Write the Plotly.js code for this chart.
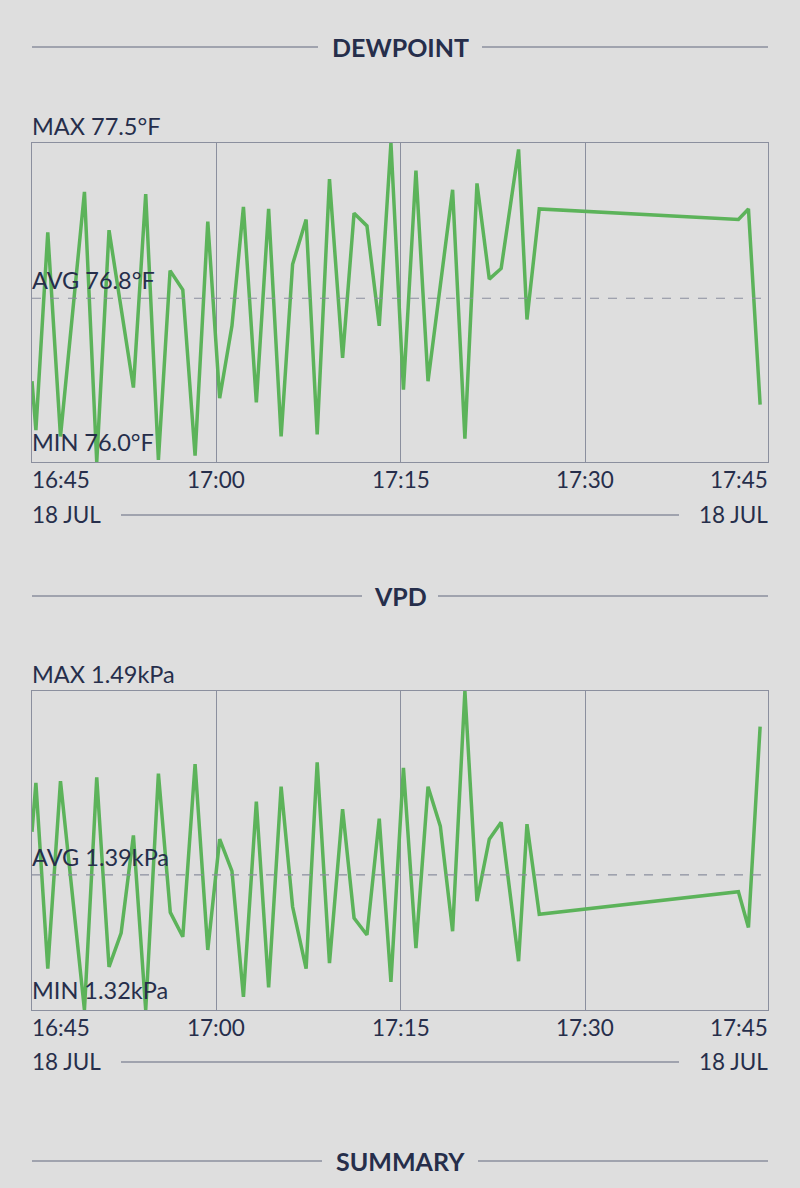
<!DOCTYPE html>
<html>
<head>
<meta charset="utf-8">
<script src="https://cdn.plot.ly/plotly-3.0.1.min.js"></script>
<style>
html,body{margin:0;padding:0;background:#dedede;}
#chart{width:800px;height:1188px;}
</style>
</head>
<body>
<div id="chart"></div>
<script>
// ---- data ----
const DAY = '2024-07-18 ';
const dewTimes = ['16:45:00','16:45:19','16:46:17','16:47:19','16:49:16','16:50:16','16:51:16','16:53:15','16:54:15','16:55:17','16:56:14','16:57:16','16:58:16','16:59:18','17:00:16','17:01:16','17:02:12','17:03:15','17:04:15','17:05:16','17:06:12','17:07:18','17:08:12','17:09:12','17:10:16','17:11:12','17:12:15','17:13:15','17:14:12','17:15:13','17:16:14','17:17:13','17:19:13','17:20:13','17:21:12','17:22:12','17:23:10','17:24:35','17:25:16','17:26:16','17:42:28','17:43:17','17:44:14'];
const dewValues = [76.38,76.15,77.08,76.12,77.27,76.00,77.09,76.35,77.26,76.01,76.90,76.81,76.03,77.13,76.30,76.64,77.20,76.28,77.19,76.12,76.93,77.14,76.13,77.33,76.49,77.17,77.11,76.64,77.50,76.34,77.37,76.38,77.28,76.11,77.31,76.86,76.91,77.47,76.67,77.19,77.14,77.19,76.27];
const vpdTimes = ['16:45:00','16:45:19','16:46:17','16:47:19','16:49:16','16:50:16','16:51:16','16:52:15','16:53:15','16:54:15','16:55:17','16:56:15','16:57:16','16:58:16','16:59:18','17:00:16','17:01:16','17:02:12','17:03:15','17:04:15','17:05:16','17:06:12','17:07:18','17:08:12','17:09:12','17:10:16','17:11:12','17:12:15','17:13:15','17:14:12','17:15:13','17:16:14','17:17:13','17:18:13','17:19:13','17:20:13','17:21:12','17:22:12','17:23:10','17:24:35','17:25:16','17:26:16','17:42:28','17:43:17','17:44:14'];
const vpdValues = [1.415,1.441,1.342,1.442,1.320,1.444,1.343,1.361,1.413,1.320,1.446,1.372,1.359,1.451,1.352,1.411,1.394,1.327,1.431,1.332,1.439,1.375,1.342,1.452,1.345,1.427,1.369,1.360,1.422,1.335,1.449,1.353,1.439,1.418,1.362,1.490,1.378,1.411,1.420,1.346,1.419,1.371,1.383,1.364,1.471];
const dewStats = [77.5, 76.77, 76.0];   // max, avg, min
const vpdStats = [1.49, 1.392, 1.32];
const tickLabels = ['16:45','17:00','17:15','17:30','17:45'];
const dateLabel = '18 JUL';
const sectionTitles = ['DEWPOINT','VPD','SUMMARY'];
const xStart = '16:45:00', xEnd = '17:44:50';

// ---- style ----
const BG = '#dedede', INK = '#262e4b', RULE = '#8b8f9e', GREEN = '#5cb35a';
const W = 800, H = 1188;
const px = v => v / W, py = v => 1 - v / H;
const FONT = 'Lato, "Open Sans", sans-serif';

const t = a => a.map(s => DAY + s);

const traces = [
  {x: t(dewTimes), y: dewValues, xaxis: 'x', yaxis: 'y', mode: 'lines', line: {color: GREEN, width: 3.5}, hoverinfo: 'skip'},
  {x: t(vpdTimes), y: vpdValues, xaxis: 'x2', yaxis: 'y2', mode: 'lines', line: {color: GREEN, width: 3.5}, hoverinfo: 'skip'}
];

function xax(anchor) {
  return {
    type: 'date', anchor: anchor, domain: [px(32), px(767.5)],
    range: [DAY + xStart, DAY + xEnd],
    tick0: DAY + '16:45:00', dtick: 900000,
    showgrid: true, gridcolor: RULE, gridwidth: 1,
    showticklabels: false, ticks: '', zeroline: false,
    showline: true, mirror: true, linecolor: RULE, linewidth: 1, fixedrange: true
  };
}
function yax(range, top, bottom) {
  return {
    range: range, domain: [py(bottom), py(top)],
    showgrid: false, showticklabels: false, ticks: '', zeroline: false,
    showline: true, mirror: true, linecolor: RULE, linewidth: 1, fixedrange: true
  };
}

const shapes = [];
const annotations = [];

function header(text, cy, halfGap) {
  shapes.push({type: 'line', xref: 'paper', yref: 'paper', x0: px(32), x1: px(400 - halfGap), y0: py(cy), y1: py(cy), line: {color: RULE, width: 1.5}});
  shapes.push({type: 'line', xref: 'paper', yref: 'paper', x0: px(400 + halfGap), x1: px(768), y0: py(cy), y1: py(cy), line: {color: RULE, width: 1.5}});
  annotations.push({xref: 'paper', yref: 'paper', x: 0.5, y: py(cy), text: '<b>' + text + '</b>', showarrow: false, xanchor: 'center', yanchor: 'middle', font: {family: FONT, size: 25, color: INK}});
}

function panel(xa, ya, stats, fmt, unit, tickY, dateY) {
  shapes.push({type: 'line', xref: xa + ' domain', yref: ya, x0: 0, x1: 1, y0: stats[1], y1: stats[1], line: {color: RULE, width: 1.2, dash: 'dash'}});
  const lab = (name, v, shift) => annotations.push({xref: 'paper', yref: ya, x: px(32), xshift: -2, y: v, yshift: shift, text: name + ' ' + v.toFixed(fmt) + unit, showarrow: false, xanchor: 'left', yanchor: 'bottom', font: {family: FONT, size: 23.5, color: INK}});
  lab('MAX', stats[0], 1);
  lab('AVG', stats[1], 2);
  lab('MIN', stats[2], 4);
  tickLabels.forEach((s, i) => {
    const last = i === tickLabels.length - 1;
    annotations.push({xref: xa, yref: 'paper', x: DAY + (last ? xEnd : s + ':00'), xshift: i === 0 ? -2 : (last ? 2 : 0), y: py(tickY), text: s, showarrow: false,
      xanchor: i === 0 ? 'left' : (last ? 'right' : 'center'), yanchor: 'middle', font: {family: FONT, size: 22.5, color: INK}});
  });
  annotations.push({xref: 'paper', yref: 'paper', x: px(32), xshift: -2, y: py(dateY), text: dateLabel, showarrow: false, xanchor: 'left', yanchor: 'middle', font: {family: FONT, size: 22.5, color: INK}});
  annotations.push({xref: 'paper', yref: 'paper', x: px(768), xshift: 2, y: py(dateY), text: dateLabel, showarrow: false, xanchor: 'right', yanchor: 'middle', font: {family: FONT, size: 22.5, color: INK}});
  shapes.push({type: 'line', xref: 'paper', yref: 'paper', x0: px(121), x1: px(679), y0: py(dateY + 1), y1: py(dateY + 1), line: {color: RULE, width: 1.5}});
}

header(sectionTitles[0], 47, 82);
header(sectionTitles[1], 596, 38);
header(sectionTitles[2], 1161, 78);
panel('x', 'y', dewStats, 1, '°F', 479, 514);
panel('x2', 'y2', vpdStats, 2, 'kPa', 1027, 1061);

const layout = {
  width: W, height: H,
  margin: {l: 0, r: 0, t: 0, b: 0},
  paper_bgcolor: BG, plot_bgcolor: BG,
  showlegend: false,
  xaxis: xax('y'), yaxis: yax([dewStats[2], dewStats[0]], 143, 462),
  xaxis2: xax('y2'), yaxis2: yax([vpdStats[2], vpdStats[0]], 691, 1010),
  shapes: shapes, annotations: annotations,
  font: {family: FONT, color: INK}
};

Plotly.newPlot('chart', traces, layout, {displayModeBar: false, staticPlot: true});
</script>
</body>
</html>
